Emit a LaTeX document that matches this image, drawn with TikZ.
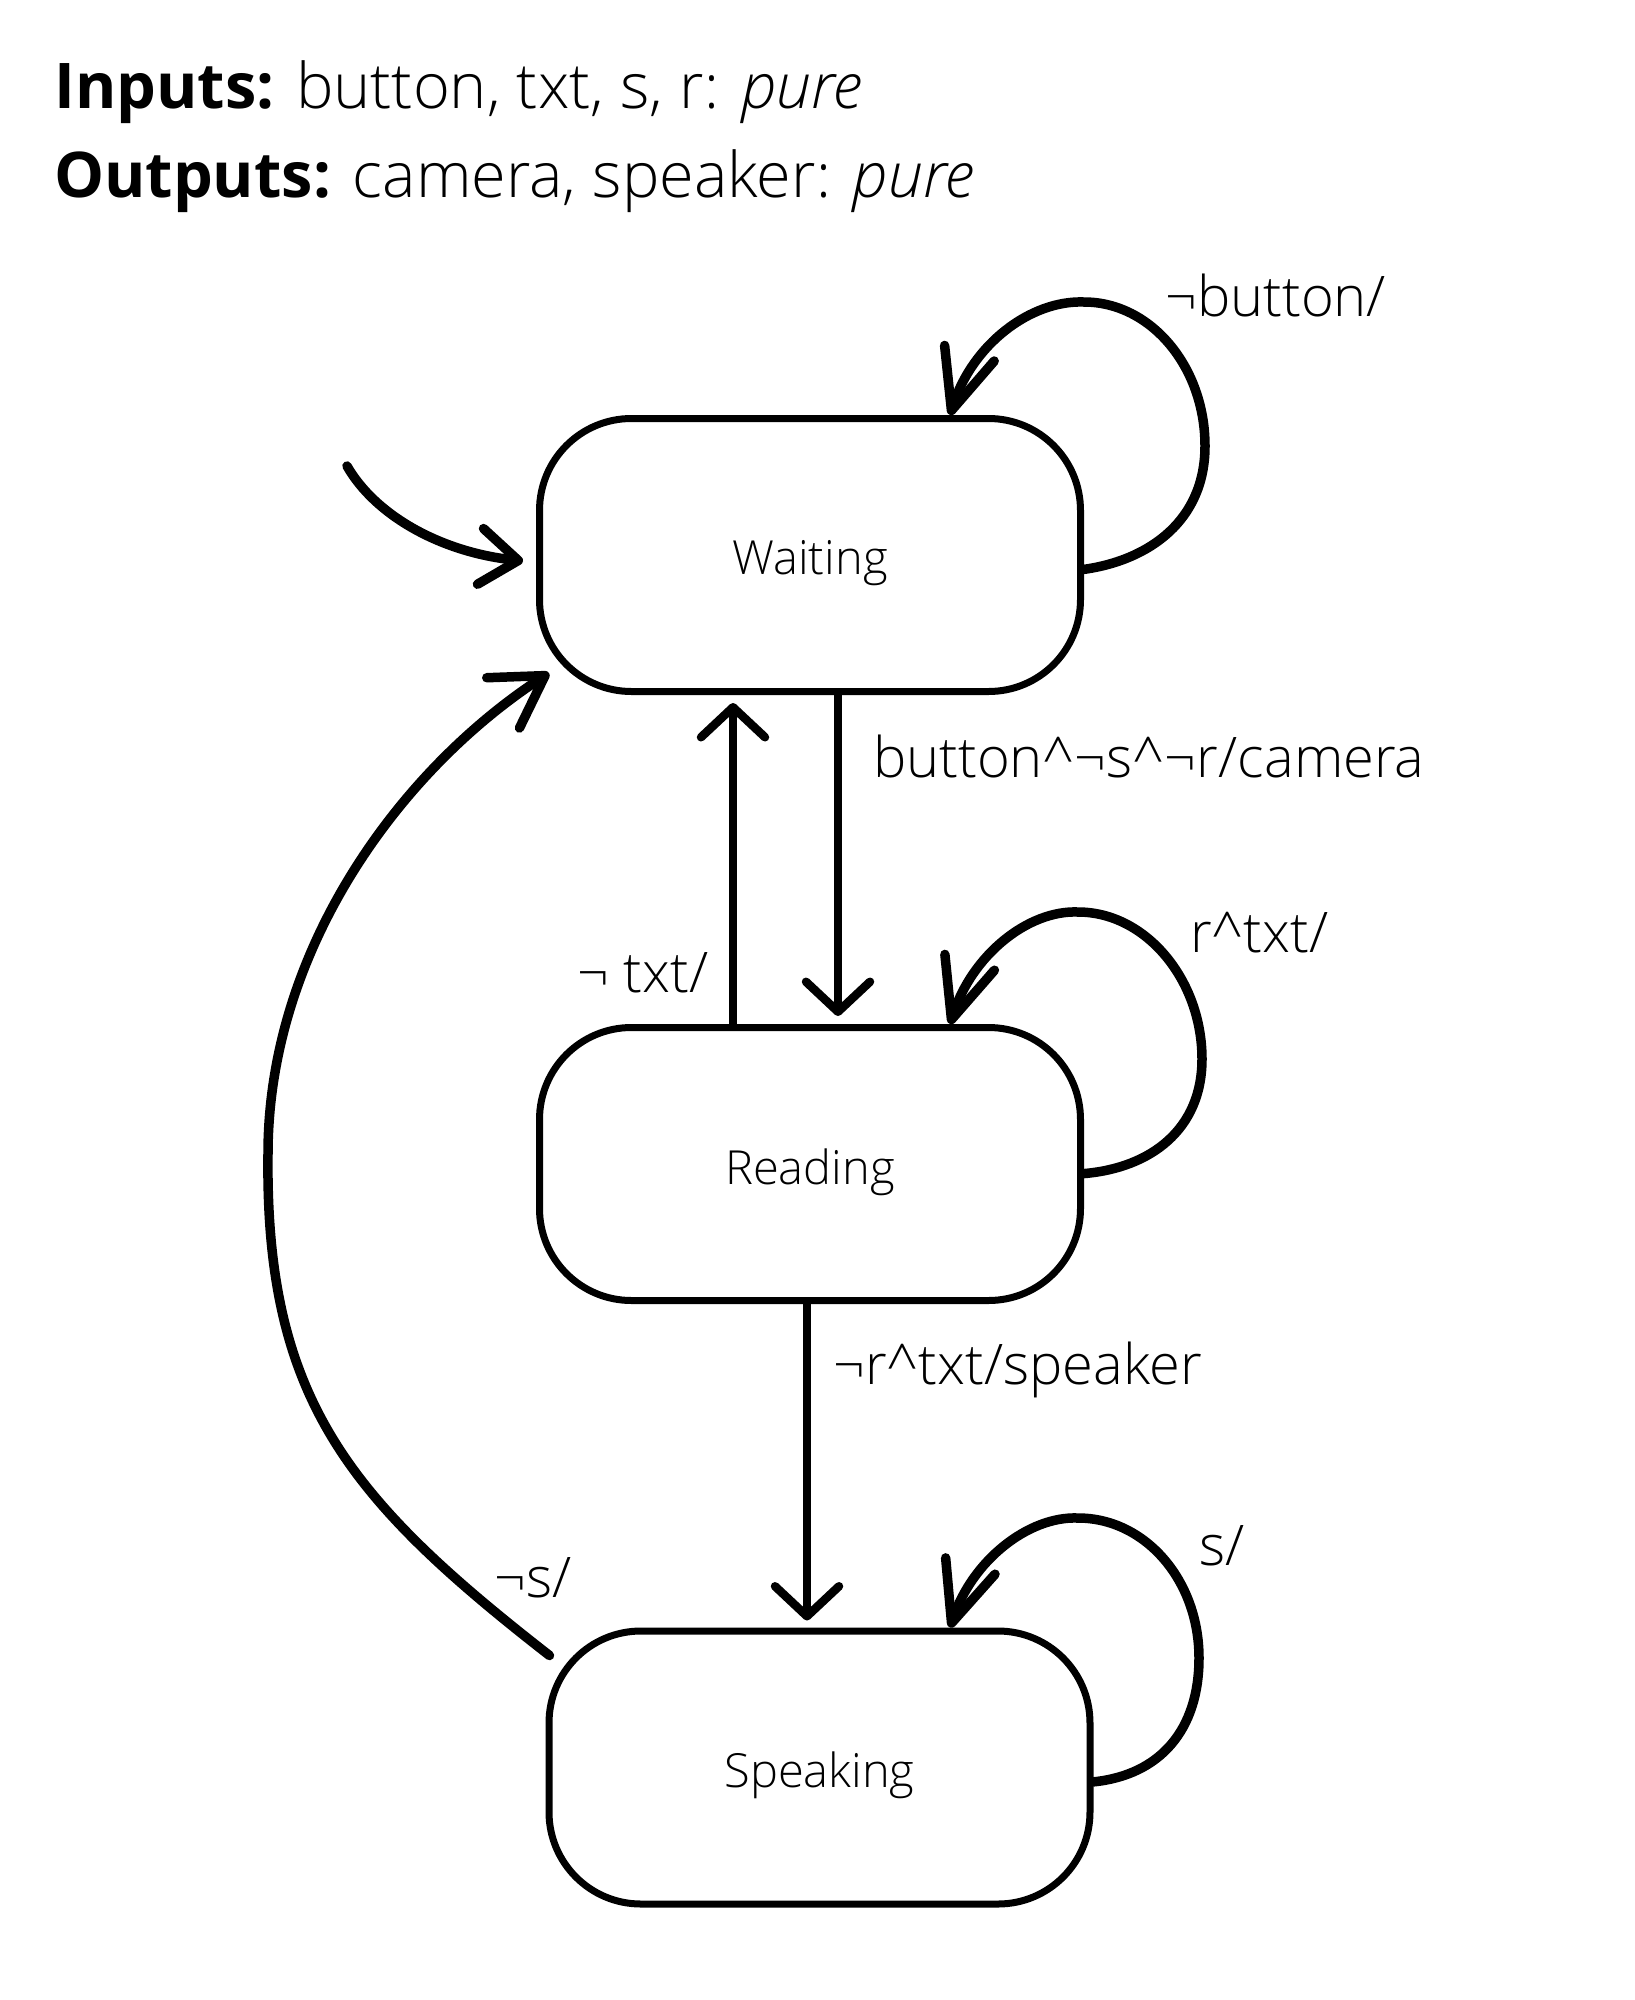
\documentclass[tikz,border=0pt]{standalone}
\usepackage{fontspec}
\setmainfont{Open Sans}[UprightFont={* Light}, ItalicFont={* Light Italic}, BoldFont={* Bold}]
\usetikzlibrary{arrows.meta}
\begin{document}
\begin{tikzpicture}[x=1pt,y=-1pt,
  state/.style={draw, line width=7pt, rounded corners=92pt, minimum width=541pt, minimum height=273pt, inner sep=0pt, font=\fontsize{47}{56}\selectfont},
  lbl/.style={anchor=base west, inner sep=0pt, font=\fontsize{56}{66}\selectfont},
  ttl/.style={anchor=base west, inner sep=0pt, font=\fontsize{63}{74}\selectfont},
  tipV/.style={-{Straight Barb[length=30pt,width=64pt,round]}},
  tipI/.style={-{Straight Barb[length=38pt,width=56pt,round]}},
  tipA/.style={-{Straight Barb[length=50pt,width=60pt,round]}},
  tipL/.style={-{Straight Barb[length=60pt,width=52pt,round]}},
  vline/.style={line width=8.5pt, line cap=round, tipV},
  curv/.style={line width=9.5pt, line cap=round}]
\useasboundingbox[fill=white] (0,0) rectangle (1634,2000);

% header
\node[ttl] (in) at (54,108) {\textbf{Inputs:} button, txt, s, r: \textit{pure}};
\node[ttl] (out) at (54,197) {\textbf{Outputs:} camera, speaker: \textit{pure}};

% states
\node[state] (W) at (810,555) {\raisebox{-19.5pt}[0pt][0pt]{Waiting}};
\node[state] (R) at (810,1164) {\raisebox{-20.5pt}[0pt][0pt]{Reading}};
\node[state] (S) at (819.5,1767.5) {\raisebox{-19.5pt}[0pt][0pt]{Speaking}};

% initial arrow
\coordinate (init) at (347,466);
\draw[curv, tipI] (init) .. controls (375,515) and (440,552) .. ([shift={(-13pt,-6pt)}]W.west);

% Waiting self loop
\draw[curv, tipL] (W.-3.4) .. controls (1150,560) and (1205,520) .. (1205,446)
  .. controls (1205,367) and (1151,302) .. (1084,302)
  .. controls (1030,300) and (972,345) .. (W.45.6);

% Waiting <-> Reading
\draw[vline] ([xshift=28pt]W.south) -- ([xshift=28pt,yshift=8pt]R.north);
\draw[vline] ([xshift=-77pt]R.north) -- ([xshift=-77pt,yshift=-8pt]W.south);

% Reading self loop
\draw[curv, tipL] (R.-2) .. controls (1150,1168) and (1202,1130) .. (1202,1059)
  .. controls (1202,980) and (1146,912) .. (1078,912)
  .. controls (1028,910) and (972,955) .. (R.45.6);

% Reading -> Speaking
\draw[vline] ([xshift=-3pt]R.south) -- ([xshift=-12.5pt,yshift=7pt]S.north);

% Speaking self loop
\draw[curv, tipL] (S.-3.2) .. controls (1160,1775) and (1199,1730) .. (1199,1658)
  .. controls (1199,1580) and (1145,1518) .. (1078,1518)
  .. controls (1028,1516) and (972,1561) .. (S.47.7);

% Speaking -> Waiting
\draw[curv, tipA] ([shift={(4pt,-28pt)}]S.north west) .. controls (350,1500) and (265,1400) .. (268,1154)
  .. controls (268,950) and (400,770) .. ([shift={(13pt,22pt)}]W.south west);

% labels
\node[lbl] (l1) at (1165,316) {¬button/};
\node[lbl] (l2) at (873,777) {button\textasciicircum¬s\textasciicircum¬r/camera};
\node[lbl] (l3) at (577,992) {¬ txt/};
\node[lbl] (l4) at (1190,952) {r\textasciicircum txt/};
\node[lbl] (l5) at (833,1384) {¬r\textasciicircum txt/speaker};
\node[lbl] (l6) at (494,1597) {¬s/};
\node[lbl] (l7) at (1199,1565) {s/};
\end{tikzpicture}
\end{document}
